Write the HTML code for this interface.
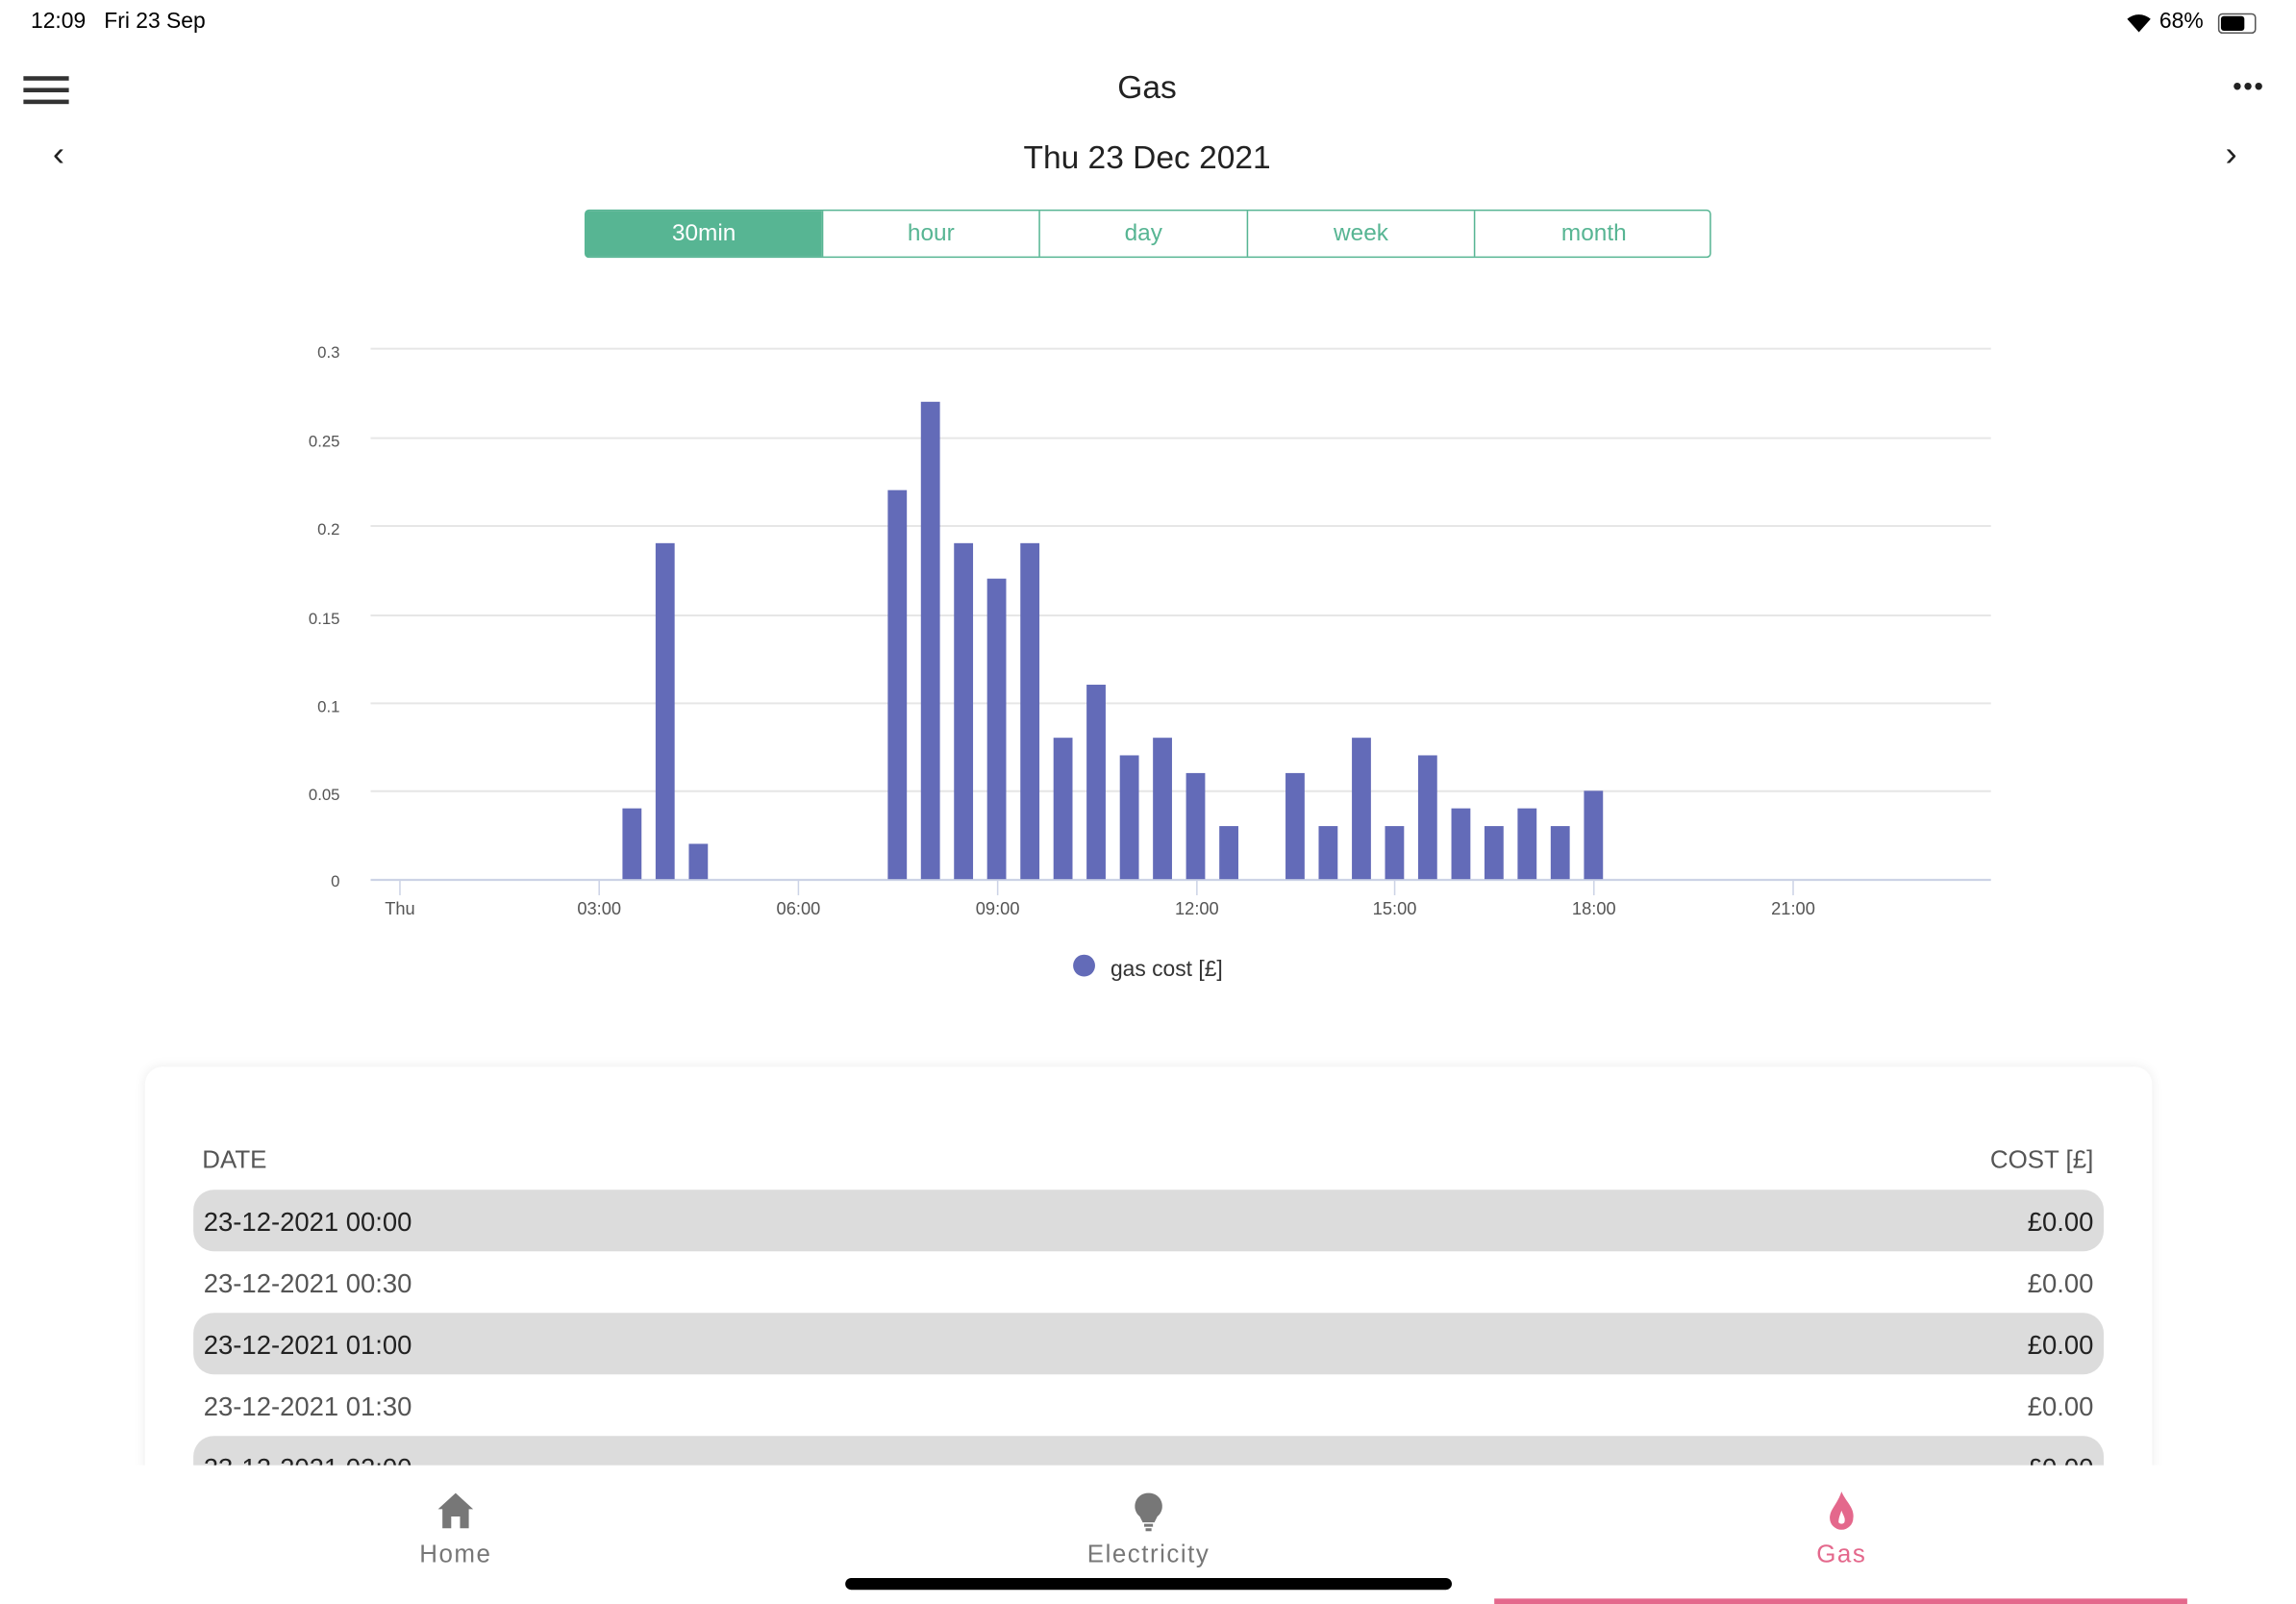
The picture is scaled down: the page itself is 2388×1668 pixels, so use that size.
<!DOCTYPE html>
<html><head><meta charset="utf-8"><style>
html,body{margin:0;padding:0;background:#fff;overflow:hidden}
#s{width:1568px;height:1100px;transform:scale(1.5237);transform-origin:0 0;position:relative;font-family:"Liberation Sans",sans-serif;color:#333}
.a{position:absolute}
.seg{position:absolute;top:143px;left:399px;width:769px;height:33px;border:1px solid #57b593;border-radius:3px;display:flex;box-sizing:border-box}
.seg div{flex:none;text-align:center;line-height:31px;color:#57b593;font-size:16px;border-left:1px solid #57b593}
.row{position:absolute;left:132px;width:1304px;height:42px;border-radius:14px;font-size:18px;line-height:44px}
.row span{position:absolute;left:7px}.row b{position:absolute;right:7px;font-weight:normal}
</style></head><body><div id="s">
<div class="a" style="left:21px;top:6px;font-size:15px;color:#000">12:09 &nbsp; Fri 23 Sep</div>
<div class="a" style="left:1474px;top:6px;font-size:15px;color:#000">68%</div>
<div class="a" style="left:1514px;top:9px;width:24px;height:12px;border:1px solid #555;border-radius:3px"><div style="width:16px;height:10px;margin:1px;background:#000;border-radius:2px"></div></div>
<svg class="a" style="left:1450px;top:8px" width="20" height="15" viewBox="0 0 20 15"><path d="M10 14 L2 5 A12 12 0 0 1 18 5 Z" fill="#000"/></svg>
<div class="a" style="left:16px;top:52px;width:31px;height:3px;background:#333;box-shadow:0 8px 0 #333,0 16px 0 #333"></div>
<div class="a" style="left:0;width:1566px;top:47px;text-align:center;font-size:22px;color:#222">Gas</div>
<div class="a" style="left:1524px;top:49px;font-size:18px;letter-spacing:1px;color:#222">•••</div>
<div class="a" style="left:36px;top:92px;font-size:24px;color:#222">‹</div>
<div class="a" style="left:1519px;top:92px;font-size:24px;color:#222">›</div>
<div class="a" style="left:0;width:1566px;top:95px;text-align:center;font-size:22px;color:#222">Thu 23 Dec 2021</div>
<div class="seg"><div style="width:161px;background:#57b593;color:#fff;border:none">30min</div><div style="width:147px">hour</div><div style="width:141px">day</div><div style="width:154px">week</div><div style="width:162px">month</div></div>
<svg class="a" style="left:0;top:0" width="1560" height="700">
<g stroke="#e6e6e6" stroke-width="1.3">
<line x1="253" x2="1359" y1="238" y2="238"/><line x1="253" x2="1359" y1="299" y2="299"/><line x1="253" x2="1359" y1="359" y2="359"/><line x1="253" x2="1359" y1="420" y2="420"/><line x1="253" x2="1359" y1="480" y2="480"/><line x1="253" x2="1359" y1="540" y2="540"/></g>
<line x1="253" x2="1359" y1="600.5" y2="600.5" stroke="#ccd3e6" stroke-width="1.5"/>
<g font-size="11" fill="#555" text-anchor="end"><text x="232" y="244">0.3</text><text x="232" y="305">0.25</text><text x="232" y="365">0.2</text><text x="232" y="426">0.15</text><text x="232" y="486">0.1</text><text x="232" y="546">0.05</text><text x="232" y="605">0</text></g>
<g stroke="#ccd3e6"><line x1="273" x2="273" y1="601" y2="611"/><line x1="409" x2="409" y1="601" y2="611"/><line x1="545" x2="545" y1="601" y2="611"/><line x1="681" x2="681" y1="601" y2="611"/><line x1="817" x2="817" y1="601" y2="611"/><line x1="952" x2="952" y1="601" y2="611"/><line x1="1088" x2="1088" y1="601" y2="611"/><line x1="1224" x2="1224" y1="601" y2="611"/></g>
<g font-size="12" fill="#555" text-anchor="middle"><text x="273" y="624">Thu</text><text x="409" y="624">03:00</text><text x="545" y="624">06:00</text><text x="681" y="624">09:00</text><text x="817" y="624">12:00</text><text x="952" y="624">15:00</text><text x="1088" y="624">18:00</text><text x="1224" y="624">21:00</text></g>
<g fill="#636bb8" id="bars"></g>
<circle cx="740" cy="659" r="7.5" fill="#636bb8"/><text x="758" y="666" font-size="15" fill="#333">gas cost [£]</text>
</svg>
<div class="a" style="left:99px;top:728px;width:1370px;height:290px;background:#fff;border-radius:12px;box-shadow:0 0 8px rgba(0,0,0,0.08)"></div>
<div class="a" style="left:138px;top:782px;font-size:17px;color:#555">DATE</div>
<div class="a" style="left:1300px;width:129px;text-align:right;top:782px;font-size:17px;color:#555">COST [£]</div>
<div class="row" style="top:812px;background:#dcdcdc;color:#222"><span>23-12-2021 00:00</span><b>£0.00</b></div>
<div class="row" style="top:854px;color:#555"><span>23-12-2021 00:30</span><b>£0.00</b></div>
<div class="row" style="top:896px;background:#dcdcdc;color:#222"><span>23-12-2021 01:00</span><b>£0.00</b></div>
<div class="row" style="top:938px;color:#555"><span>23-12-2021 01:30</span><b>£0.00</b></div>
<div class="row" style="top:980px;background:#dcdcdc;color:#222"><span>23-12-2021 02:00</span><b>£0.00</b></div>
<div class="a" style="left:0;top:1000px;width:1568px;height:100px;background:#fff"></div>
<svg class="a" style="left:298px;top:1018px" width="26" height="26" viewBox="0 0 26 26"><path d="M13 1 L25 12 L22 12 L22 25 L16 25 L16 17 L10 17 L10 25 L4 25 L4 12 L1 12 Z" fill="#777"/></svg>
<svg class="a" style="left:773px;top:1018px" width="22" height="28" viewBox="0 0 22 28"><path d="M11 1 A9 9 0 0 1 17 17 L15 21 L7 21 L5 17 A9 9 0 0 1 11 1Z" fill="#777"/><rect x="8" y="22" width="6" height="2" fill="#777"/><rect x="9" y="25" width="4" height="2" fill="#777"/></svg>
<svg class="a" style="left:1246px;top:1017px" width="22" height="28" viewBox="0 0 22 28"><path d="M11 1 C14 8 20 12 19 19 A8 8 0 0 1 3 19 C3 13 8 10 11 1Z" fill="#e4688c"/><path d="M11 14 C12 17 14 19 13 22 A2.5 2.5 0 0 1 9 22 C9 19 10 17 11 14Z" fill="#fff"/></svg>
<div class="a" style="left:211px;width:200px;top:1051px;text-align:center;font-size:17px;color:#777;letter-spacing:1px">Home</div>
<div class="a" style="left:684px;width:200px;top:1051px;text-align:center;font-size:17px;color:#777;letter-spacing:1px">Electricity</div>
<div class="a" style="left:1157px;width:200px;top:1051px;text-align:center;font-size:17px;color:#e4688c;letter-spacing:1px">Gas</div>
<div class="a" style="left:577px;top:1077px;width:414px;height:8px;background:#000;border-radius:4px"></div>
<div class="a" style="left:1020px;top:1091px;width:473px;height:5px;background:#e4688c"></div>
</div>
<script>
var v={7:.04,8:.19,9:.02,15:.22,16:.27,17:.19,18:.17,19:.19,20:.08,21:.11,22:.07,23:.08,24:.06,25:.03,27:.06,28:.03,29:.08,30:.03,31:.07,32:.04,33:.03,34:.04,35:.03,36:.05};
var g=document.getElementById('bars'),h='';
for(var k in v){var x=273+k*22.63-6.5,hh=v[k]/0.3*362;h+='<rect x="'+x.toFixed(1)+'" y="'+(600-hh).toFixed(1)+'" width="13" height="'+hh.toFixed(1)+'"/>';}
g.innerHTML=h;
</script>
</body></html>
